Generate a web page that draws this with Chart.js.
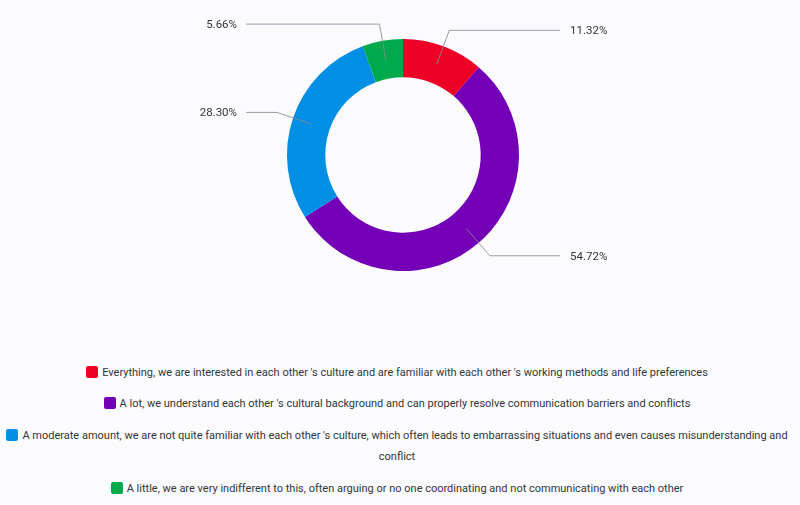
<!DOCTYPE html>
<html>
<head>
<meta charset="utf-8">
<script src="https://cdn.jsdelivr.net/npm/chart.js@4/dist/chart.umd.min.js"></script>
<style>
  html, body { margin: 0; padding: 0; background: #fbfbfe; }
  body { width: 800px; height: 505px; position: relative; overflow: hidden; font-family: Roboto, "Liberation Sans", sans-serif; }
  #wrap { position: absolute; left: 0; top: 0; width: 800px; height: 340px; }
  #legend { position: absolute; left: 2px; top: 361.5px; width: 790px; text-align: center; color: #32363a; font-size: 11px; line-height: 21px; }
  #legend .item { margin-bottom: 10.7px; }
  #legend .sw { display: inline-block; width: 12px; height: 12px; border-radius: 2px; vertical-align: -2px; margin-right: 4px; }
</style>
</head>
<body>
<div id="wrap"><canvas id="c"></canvas></div>
<div id="legend"></div>
<script>
const categories = [
  "Everything, we are interested in each other 's culture and are familiar with each other 's working methods and life preferences",
  "A lot, we understand each other 's cultural background and can properly resolve communication barriers and conflicts",
  "A moderate amount, we are not quite familiar with each other 's culture, which often leads to embarrassing situations and even causes misunderstanding and conflict",
  "A little, we are very indifferent to this, often arguing or no one coordinating and not communicating with each other"
];
const values = [11.32, 54.72, 28.30, 5.66];
const valueLabels = ["11.32%", "54.72%", "28.30%", "5.66%"];
const colors = ["#ee0026", "#7300b7", "#008fe5", "#00a94b"];

const leaderPlugin = {
  id: 'leaders',
  afterDatasetsDraw(chart) {
    const ctx = chart.ctx;
    const meta = chart.getDatasetMeta(0);
    ctx.save();
    ctx.font = '11.5px Roboto, "Liberation Sans", sans-serif';
    ctx.textBaseline = 'middle';
    meta.data.forEach((arc, i) => {
      const { x, y, startAngle, endAngle, innerRadius, outerRadius } = arc.getProps(['x','y','startAngle','endAngle','innerRadius','outerRadius'], true);
      const mid = (startAngle + endAngle) / 2;
      const r0 = (innerRadius + outerRadius) / 2;
      const r1 = outerRadius + 17;
      const sx = x + Math.cos(mid) * r0, sy = y + Math.sin(mid) * r0;
      const ex = x + Math.cos(mid) * r1, ey = y + Math.sin(mid) * r1;
      const right = Math.cos(mid) >= 0;
      const hx = right ? x + 157 : x - 157;
      ctx.strokeStyle = 'rgba(140,140,140,0.85)';
      ctx.lineWidth = 1;
      ctx.beginPath();
      ctx.moveTo(sx, sy);
      ctx.lineTo(ex, ey);
      ctx.lineTo(hx, ey);
      ctx.stroke();
      ctx.fillStyle = '#32363a';
      ctx.textAlign = right ? 'left' : 'right';
      ctx.fillText(valueLabels[i], right ? hx + 10 : hx - 9, ey + 1);
    });
    ctx.restore();
  }
};

new Chart(document.getElementById('c'), {
  type: 'doughnut',
  data: {
    labels: categories,
    datasets: [{ data: values, backgroundColor: colors, borderWidth: 0, hoverOffset: 0 }]
  },
  options: {
    responsive: true,
    maintainAspectRatio: false,
    animation: false,
    cutout: '67%',
    layout: { padding: { top: 39, bottom: 69, left: 6, right: 0 } },
    plugins: { legend: { display: false }, tooltip: { enabled: false } }
  },
  plugins: [leaderPlugin]
});

const lg = document.getElementById('legend');
categories.forEach((c, i) => {
  const d = document.createElement('div');
  d.className = 'item';
  const s = document.createElement('span');
  s.className = 'sw';
  s.style.background = colors[i];
  d.appendChild(s);
  d.appendChild(document.createTextNode(c));
  lg.appendChild(d);
});
</script>
</body>
</html>
